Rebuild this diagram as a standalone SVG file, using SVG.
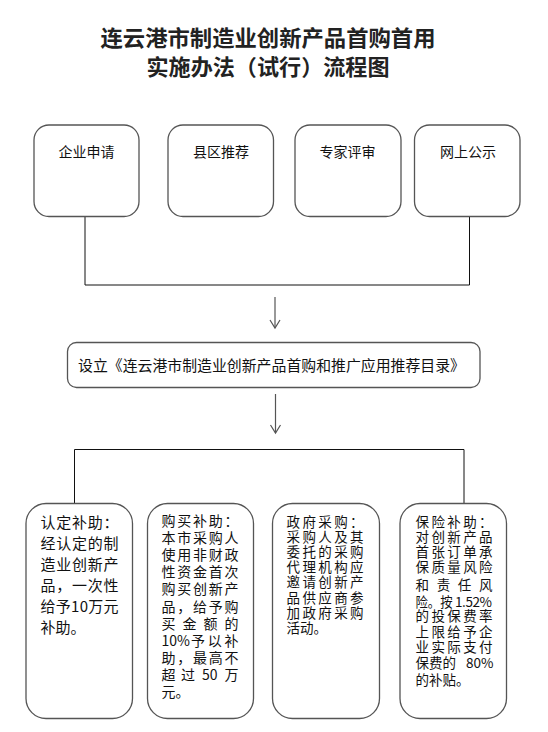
<svg xmlns="http://www.w3.org/2000/svg" width="548" height="732" viewBox="0 0 548 732">
<style>
.box{fill:#fff;stroke:#555;stroke-width:1.3}
.t{font-family:"Noto Sans CJK SC","Noto Sans",sans-serif;font-size:14px;fill:#111}
.s{font-size:13.5px}
.tc{text-anchor:middle}
.title{font-family:"Liberation Serif","Noto Sans CJK SC",serif;font-size:22px;font-weight:bold;fill:#222;text-anchor:middle}
.ln{stroke:#111;stroke-width:1;fill:none}
.ar{stroke:#555;stroke-width:1.2;fill:none}
</style>
<g id="title">
<text class="title" x="268" y="46" textLength="335" lengthAdjust="spacingAndGlyphs">连云港市制造业创新产品首购首用</text>
<text class="title" x="268" y="75" textLength="243" lengthAdjust="spacingAndGlyphs">实施办法（试行）流程图</text>
</g>
<g id="connectors">
<polyline class="ln" points="85,217 85,285 469.5,285 469.5,217"/>
<line class="ar" x1="275" y1="297" x2="275" y2="328"/>
<polyline class="ar" points="270,320 275,328 280,320"/>
<line class="ar" x1="275.5" y1="394" x2="275.5" y2="433"/>
<polyline class="ar" points="270.5,425 275.5,433 280.5,425"/>
<polyline class="ln" points="74.5,503 74.5,449.5 464,449.5 464,503"/>
</g>
<g id="n1">
<rect class="box" x="34" y="125" width="105" height="91.5" rx="15"/>
<text class="t tc" x="86.5" y="157">企业申请</text>
</g>
<g id="n2">
<rect class="box" x="168" y="125" width="105.5" height="91.5" rx="15"/>
<text class="t tc" x="221" y="157">县区推荐</text>
</g>
<g id="n3">
<rect class="box" x="295" y="125" width="106" height="91.5" rx="15"/>
<text class="t tc" x="347.5" y="157">专家评审</text>
</g>
<g id="n4">
<rect class="box" x="414.5" y="125" width="105.5" height="91.5" rx="15"/>
<text class="t tc" x="468" y="157">网上公示</text>
</g>
<g id="n5">
<rect class="box" x="67.5" y="342.5" width="412.5" height="45" rx="9"/>
<text class="t" x="78" y="370.5" style="font-size:15px" textLength="387" lengthAdjust="spacingAndGlyphs">设立《连云港市制造业创新产品首购和推广应用推荐目录》</text>
</g>
<g id="n6">
<rect class="box" x="26" y="503.5" width="106.5" height="215" rx="20"/>
<text class="t" style="font-size:15px">
<tspan x="40.5" y="527.5" textLength="78">认定补助：</tspan>
<tspan x="40.5" y="548.5" textLength="78">经认定的制</tspan>
<tspan x="40.5" y="569.5" textLength="78">造业创新产</tspan>
<tspan x="40.5" y="590.5" textLength="78">品，一次性</tspan>
<tspan x="40.5" y="611.5" textLength="78">给予10万元</tspan>
<tspan x="40.5" y="632.5">补助。</tspan>
</text>
</g>
<g id="n7">
<rect class="box" x="147.5" y="503.5" width="106" height="215" rx="20"/>
<text class="t">
<tspan x="161.5" y="526" textLength="77">购买补助：</tspan>
<tspan x="161.5" y="543.1" textLength="77">本市采购人</tspan>
<tspan x="161.5" y="560.2" textLength="77">使用非财政</tspan>
<tspan x="161.5" y="577.3" textLength="77">性资金首次</tspan>
<tspan x="161.5" y="594.4" textLength="77">购买创新产</tspan>
<tspan x="161.5" y="611.5" textLength="77">品，给予购</tspan>
<tspan x="161.5" y="628.6" textLength="77">买金额的</tspan>
<tspan x="161.5" y="645.7">10%</tspan><tspan x="191" y="645.7" textLength="47.5">予以补</tspan>
<tspan x="161.5" y="662.8" textLength="77">助，最高不</tspan>
<tspan x="161.5" y="679.9">超</tspan><tspan x="181" y="679.9">过</tspan><tspan x="202" y="679.9">50</tspan><tspan x="224.5" y="679.9">万</tspan>
<tspan x="161.5" y="697">元。</tspan>
</text>
</g>
<g id="n8">
<rect class="box" x="272.5" y="503.5" width="107" height="215" rx="20"/>
<text class="t s">
<tspan x="286.5" y="526.5" textLength="77">政府采购：</tspan>
<tspan x="286.5" y="541.7" textLength="77">采购人及其</tspan>
<tspan x="286.5" y="556.9" textLength="77">委托的采购</tspan>
<tspan x="286.5" y="572.1" textLength="77">代理机构应</tspan>
<tspan x="286.5" y="587.3" textLength="77">邀请创新产</tspan>
<tspan x="286.5" y="602.5" textLength="77">品供应商参</tspan>
<tspan x="286.5" y="617.7" textLength="77">加政府采购</tspan>
<tspan x="286.5" y="632.9">活动。</tspan>
</text>
</g>
<g id="n9">
<rect class="box" x="400" y="503.5" width="106.5" height="215" rx="20"/>
<text class="t s">
<tspan x="415.5" y="526.5" textLength="77">保险补助：</tspan>
<tspan x="415.5" y="541.5" textLength="77">对创新产品</tspan>
<tspan x="415.5" y="556.5" textLength="77">首张订单承</tspan>
<tspan x="415.5" y="572.1" textLength="77">保质量风险</tspan>
<tspan x="415.5" y="589.8" textLength="77">和责任风</tspan>
<tspan x="415.5" y="606.5" textLength="37" lengthAdjust="spacingAndGlyphs">险。按</tspan><tspan x="455" y="606.5" textLength="37">1.52%</tspan>
<tspan x="415.5" y="620.8" textLength="77">的投保费率</tspan>
<tspan x="415.5" y="636.5" textLength="77">上限给予企</tspan>
<tspan x="415.5" y="651.5" textLength="77">业实际支付</tspan>
<tspan x="415.5" y="668.1">保费的</tspan><tspan x="466" y="668.1">80%</tspan>
<tspan x="415.5" y="684.8">的补贴。</tspan>
</text>
</g>
</svg>
